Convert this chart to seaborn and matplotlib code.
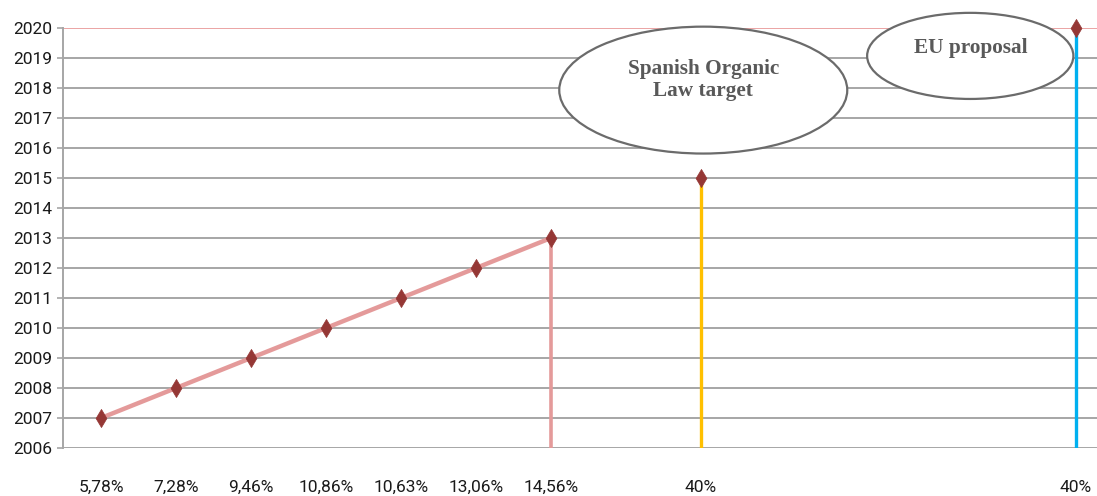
import matplotlib
matplotlib.use("Agg")
import matplotlib.pyplot as plt
from matplotlib.patches import Ellipse
import seaborn as sns
import pandas as pd

# Renewable share reached each year, with the two policy targets
share_labels = ["5,78%", "7,28%", "9,46%", "10,86%", "10,63%", "13,06%", "14,56%", "40%", "40%"]
years = [2007, 2008, 2009, 2010, 2011, 2012, 2013, 2015, 2020]
slots = [0, 1, 2, 3, 4, 5, 6, 8, 13]          # category slot on the x axis
groups = ["hist"] * 7 + ["spain", "eu"]
year_ticks = list(range(2006, 2021))

df = pd.DataFrame({"slot": slots, "year": years, "label": share_labels, "group": groups})
hist = df[df.group == "hist"]

sns.set_style("white")
plt.rcParams["font.family"] = ["Roboto", "DejaVu Sans"]

W, H = 1097, 496
fig = plt.figure(figsize=(W / 100, H / 100), dpi=100)
ax = fig.add_axes([63 / W, 48 / H, (W - 63) / W, 420 / H])

base = year_ticks[0]
top = year_ticks[-1]

# horizontal grid
for y in year_ticks[:-1]:
    ax.axhline(y, color="#a6a6a6", lw=1.4, zorder=0)
ax.axhline(top, color="#eba4a4", lw=1.4, zorder=0)

# historical series
sns.lineplot(data=hist, x="slot", y="year", ax=ax, color="#e49a9a", lw=3.2,
             marker=None, legend=False, zorder=2)

# drop lines down to the base year
drop_colors = {"hist": "#e49a9a", "spain": "#ffc000", "eu": "#00b0f0"}
last_hist = hist.iloc[-1]
ax.vlines(last_hist.slot, base, last_hist.year, color=drop_colors["hist"], lw=2.6, zorder=2)
for g in ["spain", "eu"]:
    row = df[df.group == g].iloc[0]
    ax.vlines(row.slot, base, row.year, color=drop_colors[g], lw=2.4, zorder=2)

# diamond markers on every point
sns.scatterplot(data=df, x="slot", y="year", ax=ax, marker="d", s=85,
                color="#953735", edgecolor="#953735", linewidth=0.5,
                legend=False, zorder=4, clip_on=False)

ax.set_xlim(-0.507, 13.28)
ax.set_ylim(base, top)

ax.set_xticks(df.slot)
ax.set_xticklabels(df.label)
ax.set_yticks(year_ticks)
ax.set_yticklabels([str(y) for y in year_ticks])
ax.tick_params(axis="x", length=0, pad=23, labelsize=12.5, colors="#1a1a1a")
ax.tick_params(axis="y", length=4, width=1.2, color="#a6a6a6", pad=3.5,
               labelsize=12.5, colors="#1a1a1a", left=True)
ax.set_xlabel("")
ax.set_ylabel("")

for side in ["top", "right", "bottom"]:
    ax.spines[side].set_visible(False)
ax.spines["left"].set_color("#a6a6a6")
ax.spines["left"].set_linewidth(1.4)

# callout bubbles
bubbles = [
    ((8.03, 2017.93), 3.84, 4.23, "Spanish Organic\nLaw target", (8.03, 2018.27)),
    ((11.59, 2019.07), 2.75, 2.87, "EU proposal", (11.6, 2019.33)),
]
for center, w, h, text, tpos in bubbles:
    e = Ellipse(center, w, h, facecolor="white", edgecolor="#6b6b6b", lw=1.6,
                zorder=5, clip_on=False)
    ax.add_patch(e)
    ax.text(*tpos, text, ha="center", va="center", fontsize=15.3, fontweight="bold",
            family=["Liberation Serif"], color="#595959", zorder=6, linespacing=1.1)

fig.savefig("out.png", dpi=100)
